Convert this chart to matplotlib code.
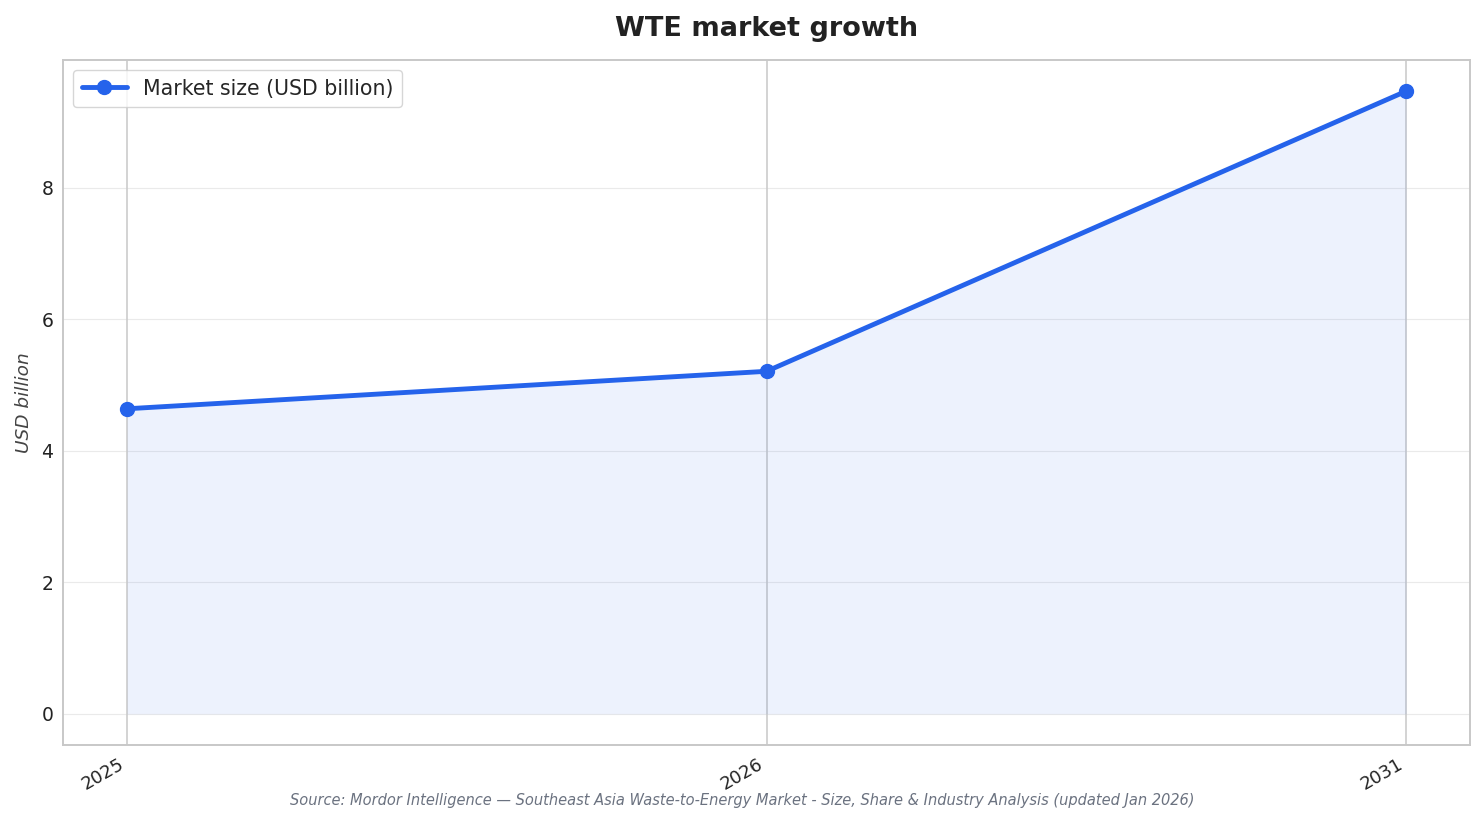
import matplotlib
matplotlib.use("Agg")
import matplotlib.pyplot as plt
import seaborn as sns

# data
years = ["2025", "2026", "2031"]
market_size = [4.64, 5.21, 9.47]

sns.set_style("whitegrid")
plt.rcParams["font.family"] = ["DejaVu Sans"]

fig, ax = plt.subplots(figsize=(14.84, 8.23), dpi=100)
fig.subplots_adjust(left=0.0425, right=0.9906, top=0.927, bottom=0.0948)

x = list(range(len(years)))
ax.fill_between(x, market_size, 0, color="#2563eb", alpha=0.08, linewidth=0)
ax.plot(x, market_size, color="#2563eb", linewidth=3.5, marker="o",
        markersize=10, label="Market size (USD billion)")

ax.set_xticks(x)
ax.set_xticklabels(years, rotation=30, ha="right", fontsize=13, color="#222222")
ax.tick_params(axis="y", labelsize=13.5, colors="#222222")
ax.grid(axis="x", color="#cccccc", linewidth=1.2)
ax.grid(axis="y", alpha=0.4)
for sp in ax.spines.values():
    sp.set_linewidth(1.4)
    sp.set_color("#c8c8c8")
ax.set_ylabel("USD billion", fontsize=13.3, style="italic", color="#444444", labelpad=6)
ax.set_title("WTE market growth", fontsize=19.5, fontweight="bold", color="#222222", pad=17)
ax.legend(loc="upper left", fontsize=14.8, frameon=True, handlelength=2.2)

fig.text(0.5, 0.022, "Source: Mordor Intelligence \u2014 Southeast Asia Waste-to-Energy Market - "
         "Size, Share & Industry Analysis (updated Jan 2026)",
         ha="center", fontsize=10.5, style="italic", color="#6b7280")

fig.savefig("out.png", dpi=100)
